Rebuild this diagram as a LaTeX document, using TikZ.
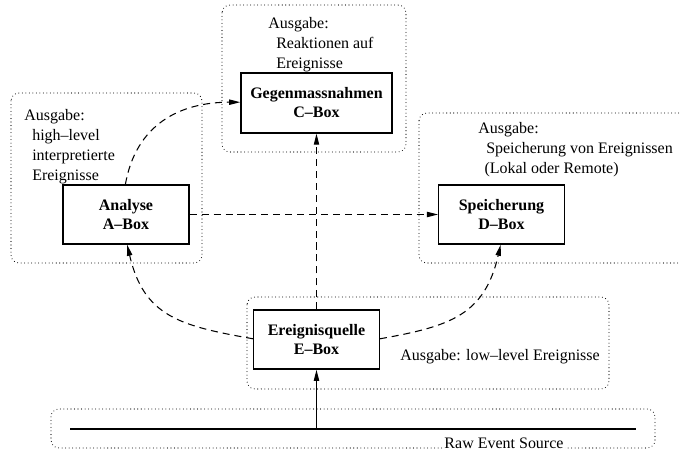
\documentclass[tikz,border=0pt]{standalone}
\usepackage{fontspec}
\setmainfont{Liberation Serif}
\usetikzlibrary{arrows.meta}

\begin{document}
\begin{tikzpicture}[scale=0.2]
\tikzstyle{every node}+=[inner sep=0pt]
\tikzstyle{funcbox}=[draw=black, line width=0.8pt, font=\fontsize{9.1}{10.8}\selectfont\bfseries, align=center, minimum width=71.4pt, minimum height=33.6pt]
\tikzstyle{areabox}=[black, line width=0.6pt, line cap=round, dash pattern=on 0pt off 2pt, rounded corners=4.5pt]
\tikzstyle{flow}=[black, line width=0.6pt, dash pattern=on 4pt off 2.8pt, -{Triangle[length=6.3pt,width=3pt]}]
\tikzstyle{note}=[font=\fontsize{9.1}{11.4}\selectfont, align=left, anchor=west]
\useasboundingbox (0,0) rectangle (68,-45.1);
\draw [areabox] (22.2,-0.5) rectangle (40.6,-15.2);
\draw [areabox] (1.1,-9.3) rectangle (20.2,-26.3);
\draw [areabox] (41.9,-11.3) rectangle (70.5,-26.3);
\draw [areabox] (24.7,-29.7) rectangle (60.9,-38.9);
\draw [areabox] (5.1,-40.9) rectangle (65.5,-44.8);
\node [funcbox, minimum width=85.9pt, minimum height=34.1pt] (cbox) at (31.65,-10.3) {Gegenmassnahmen\\C--Box};
\node [funcbox, minimum width=71.7pt] (abox) at (12.6,-21.45) {Analyse\\A--Box};
\node [funcbox] (dbox) at (50.15,-21.45) {Speicherung\\D--Box};
\node [funcbox] (ebox) at (31.65,-33.95) {Ereignisquelle\\E--Box};
\node [note] (clabel) at (26.8,-4.5) {Ausgabe:\\\hspace*{4.5pt}Reaktionen auf\\\hspace*{4.5pt}Ereignisse};
\node [note] (alabel) at (2.4,-14.65) {Ausgabe:\\\hspace*{4.5pt}high--level\\\hspace*{4.5pt}interpretierte\\\hspace*{4.5pt}Ereignisse};
\node [note] (dlabel) at (47.8,-15.0) {Ausgabe:\\\hspace*{4.5pt}Speicherung von Ereignissen\\\hspace*{3.5pt}(Lokal oder Remote)};
\node [note] (elabel) at (40.0,-35.7) {Ausgabe: low--level Ereignisse};
\draw [black, line width=0.8pt] (7.0,-42.9) -- (63.6,-42.9);
\node [font=\fontsize{9.1}{11.4}\selectfont, fill=white, inner sep=1pt] (rawlabel) at (50.4,-44.3) {Raw Event Source};
\coordinate (rawtap) at (31.65,-42.9);
\draw [black, line width=0.6pt, -{Triangle[length=6.3pt,width=3pt]}] (rawtap) -- (ebox.south);
\draw [flow] (ebox.north) -- (cbox.south);
\draw [flow] (abox.east) -- (dbox.west);
\draw [flow] ([yshift=2pt]ebox.west) to[out=170, in=-77, looseness=1.2] ([xshift=3.4pt]abox.south);
\draw [flow] ([yshift=2pt]ebox.east) to[out=10, in=-103, looseness=1.2] ([xshift=-2.3pt]dbox.south);
\draw [flow] ([xshift=-1.7pt]abox.north) to[out=80, in=180, looseness=1.1] ([yshift=2.3pt]cbox.west);
\end{tikzpicture}
\end{document}
